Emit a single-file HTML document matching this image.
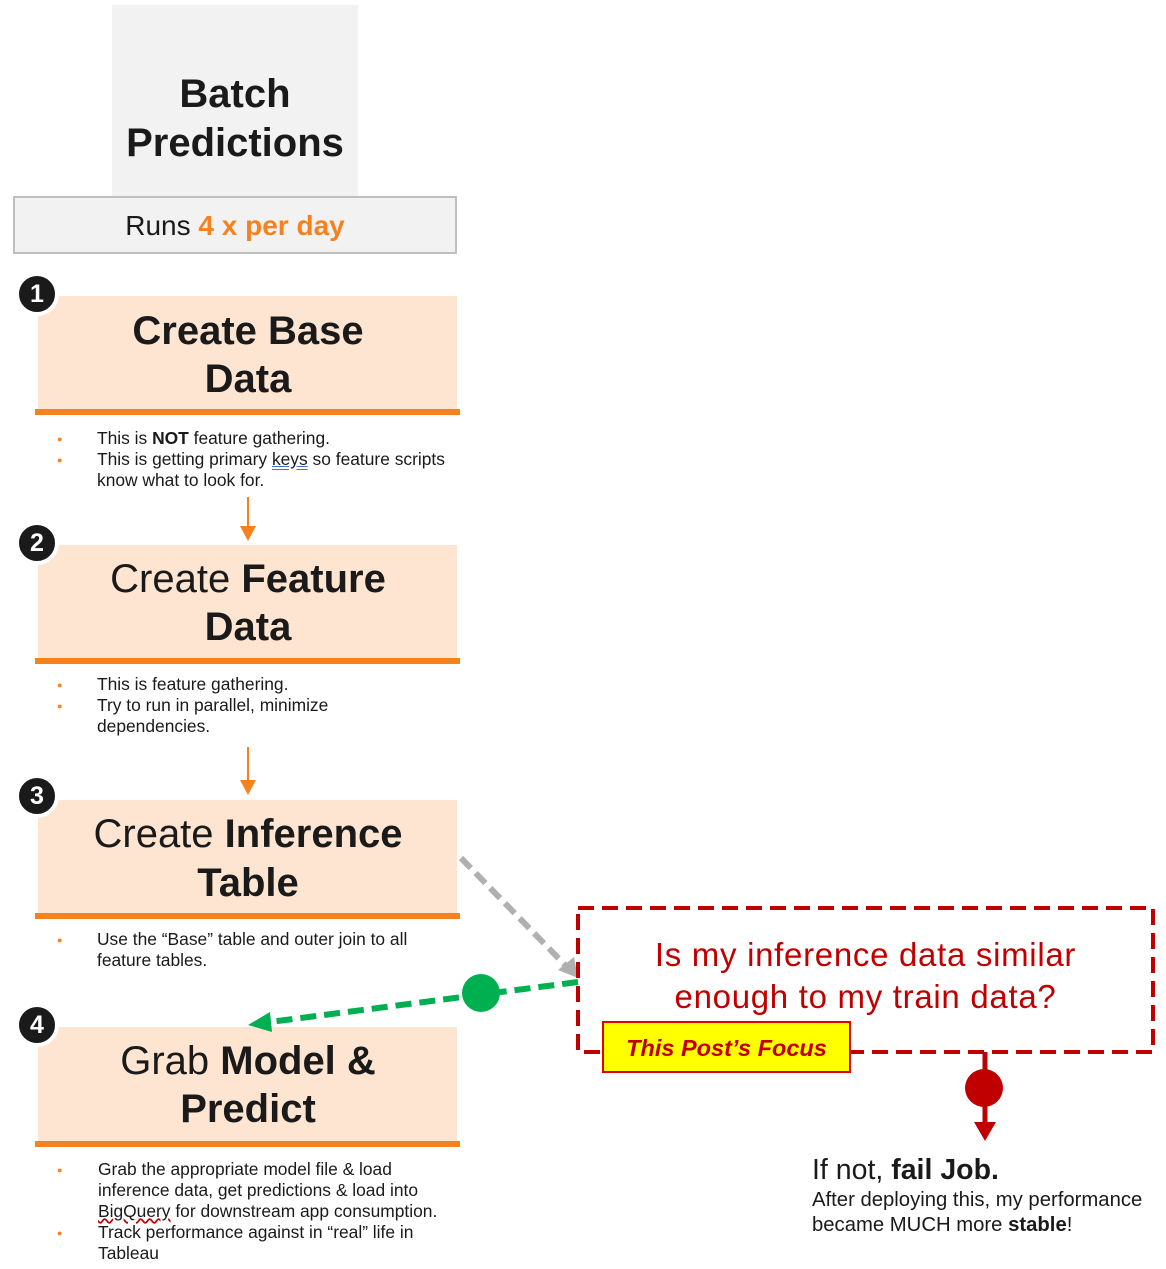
<!DOCTYPE html>
<html><head><meta charset="utf-8"><style>
body{margin:0;width:1166px;height:1269px;background:#fff;position:relative;font-family:"Liberation Sans",Arial,sans-serif;color:#1a1a1a;overflow:hidden}
.a{position:absolute;white-space:nowrap}
.t{position:absolute;left:38px;width:420px;text-align:center;font-size:40px;line-height:48px;color:#1a1a1a}
.card{position:absolute;left:38px;width:419px;background:#fde5d2}
.bar{position:absolute;left:35px;width:425px;height:6px;background:#f5821f}
.badge{position:absolute;width:36px;height:36px;border-radius:50%;background:#1a1a1a;border:4px solid #fff;color:#fff;font-weight:bold;font-size:25px;line-height:36px;text-align:center}
.b{position:absolute;font-size:17.4px;line-height:21px;white-space:nowrap}
.dot{position:absolute;color:#f5821f;font-size:9px;left:57px}
</style></head><body>
<div class="a" style="left:112px;top:5px;width:246px;height:191px;background:#f2f2f2"></div>
<div class="a" style="left:112px;top:70px;width:246px;text-align:center;font-size:40px;line-height:48px;font-weight:bold">Batch</div>
<div class="a" style="left:112px;top:119px;width:246px;text-align:center;font-size:40px;line-height:48px;font-weight:bold">Predictions</div>
<div class="a" style="left:13px;top:196px;width:440px;height:54px;background:#f2f2f2;border:2px solid #bfbfbf;text-align:center;font-size:28px;line-height:56px">Runs <b style="color:#f5821f">4 x per day</b></div>

<div class="card" style="top:296px;height:114px"></div><div class="bar" style="top:409px"></div>
<div class="t" style="top:307px;font-weight:bold">Create Base</div>
<div class="t" style="top:355px;font-weight:bold">Data</div>
<div class="badge" style="left:15px;top:272px">1</div>
<div class="dot" style="top:434px">●</div><div class="dot" style="top:455px">●</div>
<div class="b" style="left:97px;top:428px">This is <b>NOT</b> feature gathering.</div>
<div class="b" style="left:97px;top:449px">This is getting primary <span style="text-decoration:underline double #4472c4">keys</span> so feature scripts</div>
<div class="b" style="left:97px;top:470px">know what to look for.</div>

<div class="card" style="top:545px;height:113px"></div><div class="bar" style="top:658px"></div>
<div class="t" style="top:555px">Create <b>Feature</b></div>
<div class="t" style="top:603px;font-weight:bold">Data</div>
<div class="badge" style="left:15px;top:521px">2</div>
<div class="dot" style="top:680px">●</div><div class="dot" style="top:701px">●</div>
<div class="b" style="left:97px;top:674px">This is feature gathering.</div>
<div class="b" style="left:97px;top:695px">Try to run in parallel, minimize</div>
<div class="b" style="left:97px;top:716px">dependencies.</div>

<div class="card" style="top:800px;height:113px"></div><div class="bar" style="top:913px"></div>
<div class="t" style="top:810px">Create <b>Inference</b></div>
<div class="t" style="top:859px;font-weight:bold">Table</div>
<div class="badge" style="left:15px;top:774px">3</div>
<div class="dot" style="top:935px">●</div>
<div class="b" style="left:97px;top:929px">Use the “Base” table and outer join to all</div>
<div class="b" style="left:97px;top:950px">feature tables.</div>

<div class="card" style="top:1027px;height:114px"></div><div class="bar" style="top:1141px"></div>
<div class="t" style="top:1037px">Grab <b>Model &amp;</b></div>
<div class="t" style="top:1085px;font-weight:bold">Predict</div>
<div class="badge" style="left:15px;top:1003px">4</div>
<div class="dot" style="top:1165px">●</div><div class="dot" style="top:1228px">●</div>
<div class="b" style="left:98px;top:1159px">Grab the appropriate model file &amp; load</div>
<div class="b" style="left:98px;top:1180px">inference data, get predictions &amp; load into</div>
<div class="b" style="left:98px;top:1201px"><span style="text-decoration:underline wavy #c00000">BigQuery</span> for downstream app consumption.</div>
<div class="b" style="left:98px;top:1222px">Track performance against in “real” life in</div>
<div class="b" style="left:98px;top:1243px">Tableau</div>

<svg class="a" style="left:0;top:0" width="1166" height="1269">
<line x1="248" y1="497" x2="248" y2="528" stroke="#f5821f" stroke-width="2"/>
<polygon points="240,526 256,526 248,541" fill="#f5821f"/>
<line x1="248" y1="747" x2="248" y2="782" stroke="#f5821f" stroke-width="2"/>
<polygon points="240,780 256,780 248,795" fill="#f5821f"/>
<line x1="461" y1="858" x2="566" y2="966" stroke="#b0b0b0" stroke-width="6" stroke-dasharray="14,7"/>
<polygon points="558,970 574,957 578,978" fill="#b0b0b0"/>
<line x1="578" y1="982" x2="270" y2="1022" stroke="#00b050" stroke-width="6" stroke-dasharray="16,8"/>
<polygon points="248,1025 270,1012 272,1032" fill="#00b050"/>
<circle cx="481" cy="993" r="19" fill="#00b050"/>
<rect x="578" y="908" width="575" height="144" fill="none" stroke="#c00000" stroke-width="4" stroke-dasharray="16,8"/>
<line x1="985" y1="1052" x2="985" y2="1126" stroke="#c00000" stroke-width="5"/>
<circle cx="984" cy="1088" r="19" fill="#c00000"/>
<polygon points="974,1122 996,1122 985,1141" fill="#c00000"/>
</svg>
<div class="a" style="left:578px;top:935px;width:575px;text-align:center;font-size:33px;letter-spacing:0.7px;line-height:40px;color:#c00000">Is my inference data similar</div>
<div class="a" style="left:578px;top:977px;width:575px;text-align:center;font-size:33px;letter-spacing:0.7px;line-height:40px;color:#c00000">enough to my train data?</div>
<div class="a" style="left:602px;top:1021px;width:245px;height:48px;background:#ffff00;border:2px solid #e00000;text-align:center;font-size:23.5px;line-height:50px;font-weight:bold;font-style:italic;color:#c00000">This Post’s Focus</div>
<div class="a" style="left:812px;top:1153px;font-size:28.5px;line-height:34px">If not, <b>fail Job.</b></div>
<div class="a" style="left:812px;top:1188px;font-size:20.3px;line-height:25px">After deploying this, my performance</div>
<div class="a" style="left:812px;top:1213px;font-size:20.3px;line-height:25px">became MUCH more <b>stable</b>!</div>
</body></html>
